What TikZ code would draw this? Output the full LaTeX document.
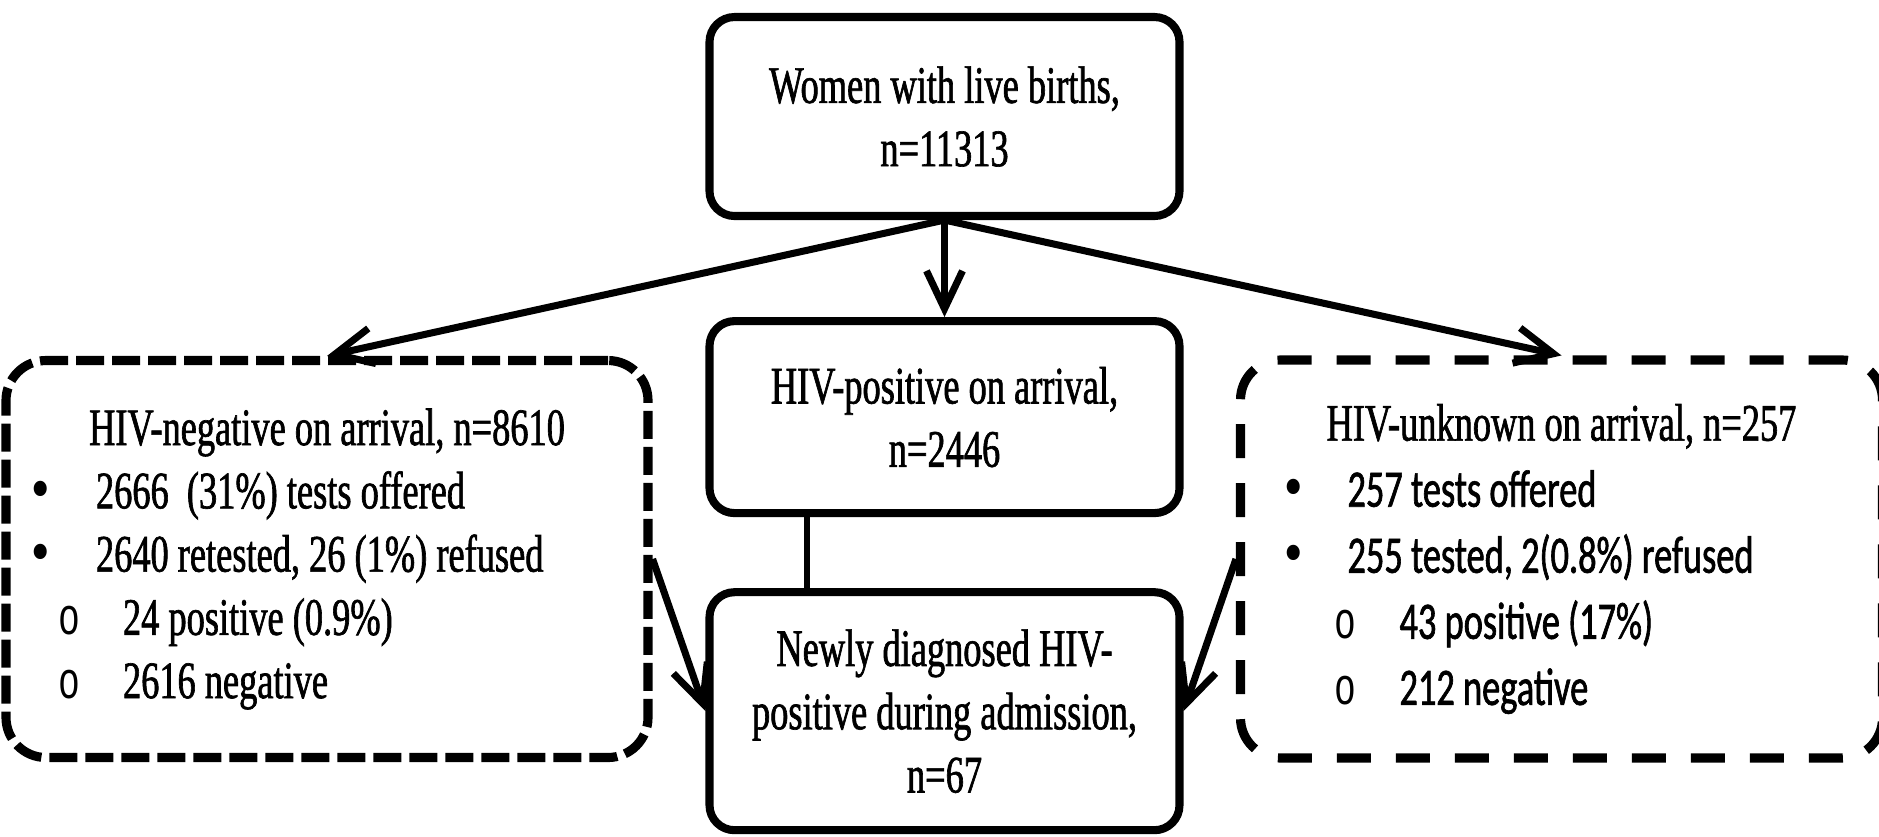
\documentclass[tikz,border=0pt]{standalone}
\usepackage{fontspec}
\setmainfont{Liberation Serif}[FakeStretch=0.69, FakeBold=1.2]
\newfontfamily\calibrifont{Carlito}[FakeStretch=0.69, FakeBold=1.2]
\newfontfamily\bulletfont{Liberation Mono}[FakeStretch=0.69]
\newfontfamily\dotfont{DejaVu Sans}[FakeStretch=0.85]
\usepackage{tikz}
\usetikzlibrary{shapes,arrows.meta}
\usetikzlibrary{positioning}
\tikzstyle{arrow} = [line width=2pt,->,>={Straight Barb[length=3.8mm,width=3.6mm]}]
\tikzstyle{link} = [line width=1.8pt]
\tikzstyle{stage} = [
    rectangle, rounded corners=0.25cm, minimum width=4.7cm, text centered, align=center,
    draw=black, line width=2.3pt, font=\fontsize{15}{18}\selectfont]
\tikzstyle{status} = [
    rectangle, rounded corners=0.4cm, minimum width=6.42cm, minimum height=3.97cm, inner sep=0pt,
    align=left, draw=black, line width=2.6pt, font=\fontsize{15}{18}\selectfont]
\newcommand{\listline}[3]{\hspace*{#1}\makebox[#2][l]{#3}}
\newcommand{\bigdot}{{\dotfont\textbullet}}

\begin{document}
\begin{tikzpicture}
\useasboundingbox (0,0) rectangle (18.79,-8.36);

\node (women) [stage, minimum height=1.99cm] at (9.445,-1.165) {
    Women with live births,\\
    n=11313
};

\node (posbox) [stage, minimum height=1.92cm, below=0.97cm of women] {
    HIV-positive on arrival,\\
    n=2446
};

\node (newbox) [stage, minimum height=2.38cm, below=0.71cm of posbox] {
    Newly diagnosed HIV-\\
    positive during admission,\\
    n=67
};

\node (negbox) [status, dash pattern=on 0.28cm off 0.08cm] at (3.27,-5.59) {
    \makebox[6.42cm]{HIV-negative on arrival, n=8610}\\
    \listline{0.22cm}{0.68cm}{\bigdot}2666~ (31\%) tests offered\\
    \listline{0.22cm}{0.68cm}{\bigdot}2640 retested, 26 (1\%) refused\\
    \listline{0.52cm}{0.65cm}{\bulletfont o}24 positive (0.9\%)\\
    \listline{0.52cm}{0.65cm}{\bulletfont o}2616 negative
};

\node (unkbox) [status, minimum height=3.98cm, dash pattern=on 0.34cm off 0.25cm,
    font=\fontsize{15}{18.8}\selectfont] at (15.615,-5.59) {
    \makebox[6.42cm]{HIV-unknown on arrival, n=257}\\
    \listline{0.40cm}{0.67cm}{\bigdot}{\calibrifont 257 tests offered}\\
    \listline{0.40cm}{0.67cm}{\bigdot}{\calibrifont 255 tested, 2(0.8\%) refused}\\
    \listline{0.94cm}{0.65cm}{\bulletfont o}{\calibrifont 43 positive (17\%)}\\
    \listline{0.94cm}{0.65cm}{\bulletfont o}{\calibrifont 212 negative}
};

\draw [arrow] (women.south) -- (posbox.north);
\draw [arrow] (women.south) -- (negbox.north);
\draw [arrow] (women.south) -- (unkbox.north);
\draw [link] ([xshift=-1.375cm]posbox.south) -- ([xshift=-1.375cm]newbox.north);
\draw [arrow] (negbox.east) -- (newbox.west);
\draw [arrow] (unkbox.west) -- (newbox.east);
\end{tikzpicture}
\end{document}
